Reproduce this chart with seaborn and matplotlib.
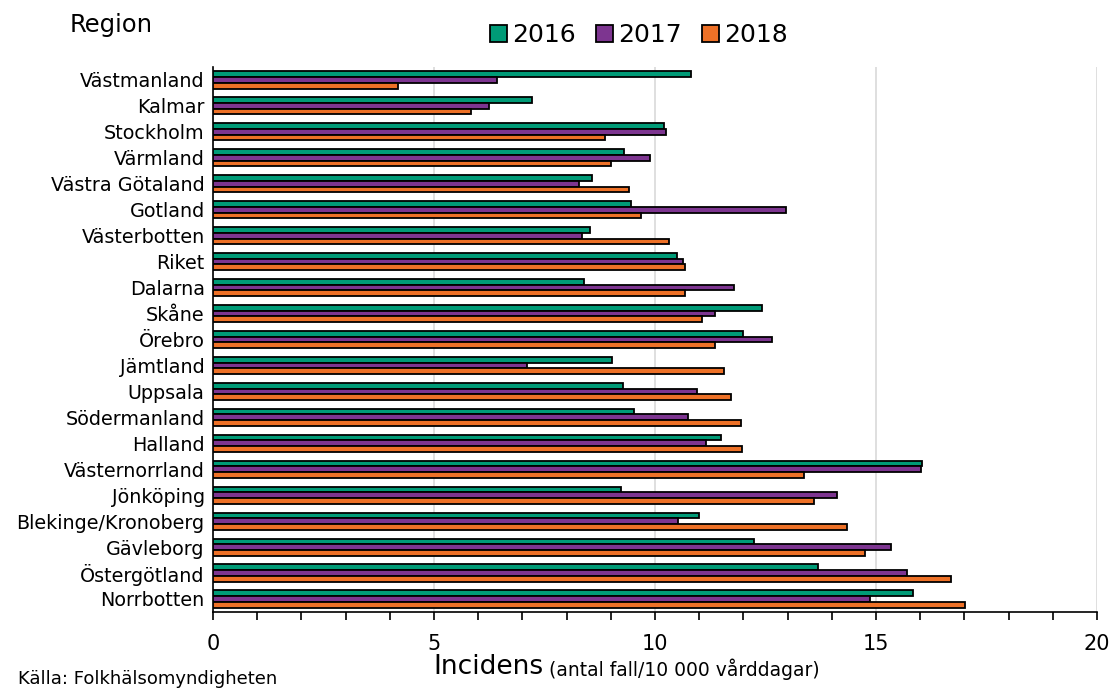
import matplotlib
matplotlib.use("Agg")
import matplotlib.pyplot as plt
import seaborn as sns
import pandas as pd
import numpy as np
from matplotlib.ticker import MultipleLocator

regions = ["Västmanland", "Kalmar", "Stockholm", "Värmland", "Västra Götaland",
           "Gotland", "Västerbotten", "Riket", "Dalarna", "Skåne", "Örebro",
           "Jämtland", "Uppsala", "Södermanland", "Halland", "Västernorrland",
           "Jönköping", "Blekinge/Kronoberg", "Gävleborg", "Östergötland", "Norrbotten"]
years = ["2016", "2017", "2018"]
v2016 = [10.81, 7.22, 10.21, 9.30, 8.58, 9.45, 8.53, 10.49, 8.39, 12.41, 11.99,
         9.02, 9.27, 9.53, 11.50, 16.05, 9.22, 10.99, 12.24, 13.68, 15.84]
v2017 = [6.42, 6.25, 10.26, 9.88, 8.27, 12.97, 8.34, 10.64, 11.79, 11.36, 12.64,
         7.11, 10.94, 10.74, 11.15, 16.01, 14.11, 10.52, 15.34, 15.70, 14.86]
v2018 = [4.19, 5.84, 8.88, 9.00, 9.42, 9.68, 10.31, 10.67, 10.69, 11.07, 11.36,
         11.55, 11.71, 11.94, 11.97, 13.37, 13.59, 14.35, 14.74, 16.69, 17.02]
colors = ["#009B77", "#7D3590", "#EE7127"]

df = pd.DataFrame({
    "Region": regions * 3,
    "År": [years[0]] * len(regions) + [years[1]] * len(regions) + [years[2]] * len(regions),
    "Incidens": v2016 + v2017 + v2018,
})

sns.set_style("white")
plt.rcParams["font.family"] = ["DejaVu Sans"]
plt.rcParams["text.color"] = "black"
plt.rcParams["xtick.color"] = "black"
plt.rcParams["ytick.color"] = "black"
plt.rcParams["axes.labelcolor"] = "black"

fig = plt.figure(figsize=(11.11, 6.89), dpi=100)
ax = fig.add_axes([0.1917, 0.1118, 0.9874 - 0.1917, 0.9028 - 0.1118])

sns.barplot(data=df, y="Region", x="Incidens", hue="År", hue_order=years,
            order=regions, palette=colors, orient="h", width=0.66, saturation=1,
            edgecolor="black", linewidth=1.3, ax=ax, legend=True, zorder=3)

ax.set_xlim(0, 20)
ax.xaxis.set_major_locator(MultipleLocator(5))
ax.xaxis.set_minor_locator(MultipleLocator(1))
ax.grid(axis="x", which="major", color="#d9d9d9", linewidth=1.2, zorder=0)
ax.set_axisbelow(True)
for s in ["top", "right"]:
    ax.spines[s].set_visible(False)
ax.spines["left"].set_color("black")
ax.spines["bottom"].set_color("black")
ax.spines["left"].set_linewidth(1.2)
ax.spines["bottom"].set_linewidth(1.2)
ax.tick_params(axis="x", which="both", direction="out", length=6, width=1.2,
               color="black", labelcolor="black", labelsize=15, pad=10, bottom=True)
ax.tick_params(axis="y", which="both", length=0, labelsize=13.8, pad=6, labelcolor="black")
ax.set_xlabel("")
ax.set_ylabel("")

handles, labels = ax.get_legend_handles_labels()
ax.legend_.remove()
fig.legend(handles, labels, loc="center", bbox_to_anchor=(0.575, 0.949), ncol=3,
           frameon=False, fontsize=18, handlelength=0.7, handleheight=0.7,
           handletextpad=0.2, columnspacing=0.8)

fig.text(0.063, 0.963, "Region", fontsize=17.5, ha="left", va="center")
t1 = fig.text(0.39, 0.022, "Incidens", fontsize=19, ha="left", va="baseline")
ax.annotate(" (antal fall/10 000 vårddagar)", xy=(1, 0), xycoords=t1,
            fontsize=13.5, ha="left", va="bottom", annotation_clip=False)
fig.text(0.016, 0.002, "Källa: Folkhälsomyndigheten", fontsize=13, ha="left", va="bottom")

fig.savefig("out.png", dpi=100)
